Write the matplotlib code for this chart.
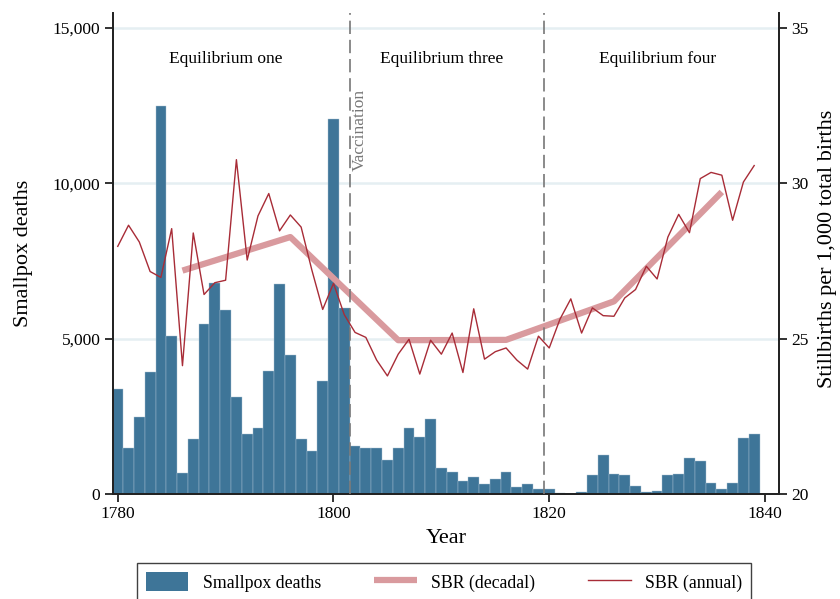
import matplotlib
matplotlib.use("Agg")
import matplotlib.pyplot as plt
from matplotlib.ticker import FuncFormatter
from matplotlib.patches import Patch
from matplotlib.lines import Line2D

plt.rcParams['font.family'] = ['Liberation Serif', 'DejaVu Serif']

years = list(range(1780, 1840))
smallpox = [3380, 1490, 2490, 3920, 12490, 5080, 680, 1770, 5470, 6790,
            5920, 3120, 1940, 2120, 3960, 6750, 4480, 1770, 1370, 3630,
            12060, 5990, 1540, 1480, 1480, 1100, 1490, 2130, 1840, 2410,
            850, 710, 420, 550, 320, 490, 710, 240, 320, 160,
            160, 20, 10, 50, 620, 1250, 640, 610, 260, 60,
            100, 610, 640, 1160, 1070, 360, 150, 350, 1810, 1940]
sbr_annual = [27.97, 28.65, 28.11, 27.16, 26.97, 28.54, 24.13, 28.40, 26.42, 26.80,
              26.88, 30.76, 27.53, 28.95, 29.67, 28.47, 28.98, 28.59, 27.20, 25.94,
              26.78, 25.77, 25.20, 25.04, 24.31, 23.80, 24.50, 24.98, 23.86, 24.95,
              24.50, 25.18, 23.91, 25.96, 24.34, 24.58, 24.70, 24.31, 24.02, 25.08,
              24.70, 25.63, 26.28, 25.18, 25.99, 25.74, 25.72, 26.31, 26.58, 27.33,
              26.92, 28.27, 29.00, 28.41, 30.15, 30.35, 30.26, 28.81, 30.04, 30.57]
dec_years = [1786, 1796, 1806, 1816, 1826, 1836]
sbr_decadal = [27.19, 28.27, 24.95, 24.96, 26.20, 29.72]

breaks = [1801.5, 1819.5]
eq_labels = ['Equilibrium one', 'Equilibrium three', 'Equilibrium four']
eq_pos = [1790, 1810, 1830]

bar_col = '#3e7598'
dec_col = '#d99a9e'
ann_col = '#a82c37'

fig = plt.figure(figsize=(8.4, 5.99), dpi=100)
ax = fig.add_axes([113/840, 1-494/599, 666/840, 481/599])
ax2 = ax.twinx()

ax.bar(years, smallpox, width=1.0, color=bar_col, edgecolor='#a9c2d2', linewidth=0.3, zorder=2)
for y in [5000, 10000, 15000]:
    ax.axhline(y, color='#e5eff2', lw=1.8, zorder=1)

ax.set_xlim(1779.56, 1841.3)
ax.set_ylim(0, 15480)
ax.set_yticks([0, 5000, 10000, 15000])
ax.yaxis.set_major_formatter(FuncFormatter(lambda v, p: f'{int(v):,}'))
ax.set_xticks([1780, 1800, 1820, 1840])

ax2.plot(dec_years, sbr_decadal, color=dec_col, lw=4.5, solid_capstyle='butt', zorder=3)
ax2.plot(years, sbr_annual, color=ann_col, lw=1.0, zorder=4)
ax2.set_ylim(20, 35.48)
ax2.set_yticks([20, 25, 30, 35])

for b in breaks:
    ax2.axvline(b, color='#777777', lw=1.2, dashes=(8, 3.5), zorder=5)

for lab, xp in zip(eq_labels, eq_pos):
    ax.text(xp, 0.904, lab, transform=ax.get_xaxis_transform(), ha='center', va='center', fontsize=12.5)
ax.text(1802.42, 0.843, 'Vaccination', transform=ax.get_xaxis_transform(), rotation=90,
        ha='center', va='top', fontsize=12.5, color='#777777')

for a in (ax, ax2):
    a.spines['top'].set_visible(False)
    for s in a.spines.values():
        s.set_linewidth(1.3)
        s.set_color('#222222')
    a.tick_params(direction='out', length=6, width=1.3, labelsize=12.5, color='#222222', pad=3)

ax.set_ylabel('Smallpox deaths', fontsize=16)
ax.yaxis.set_label_coords(-0.12, 0.5)
ax2.set_ylabel('Stillbirths per 1,000 total births', fontsize=16)
ax2.yaxis.set_label_coords(1.058, 0.51)
ax.set_xlabel('Year', fontsize=16)
ax.xaxis.set_label_coords(0.5, -0.072)

handles = [Patch(facecolor=bar_col, edgecolor='none'),
           Line2D([], [], color=dec_col, lw=4.5, solid_capstyle='butt'),
           Line2D([], [], color=ann_col, lw=1.0)]
leg = fig.legend(handles, ['Smallpox deaths', 'SBR (decadal)', 'SBR (annual)'],
                 loc='upper center', bbox_to_anchor=(444/840, 1-563/599), ncol=3,
                 fontsize=12.8, frameon=True, fancybox=False, edgecolor='#111111',
                 handlelength=2.4, handleheight=1.3, columnspacing=3.0,
                 borderpad=0.5, handletextpad=0.8, borderaxespad=0)
leg.get_frame().set_linewidth(1.0)

fig.savefig('out.png', dpi=100)
